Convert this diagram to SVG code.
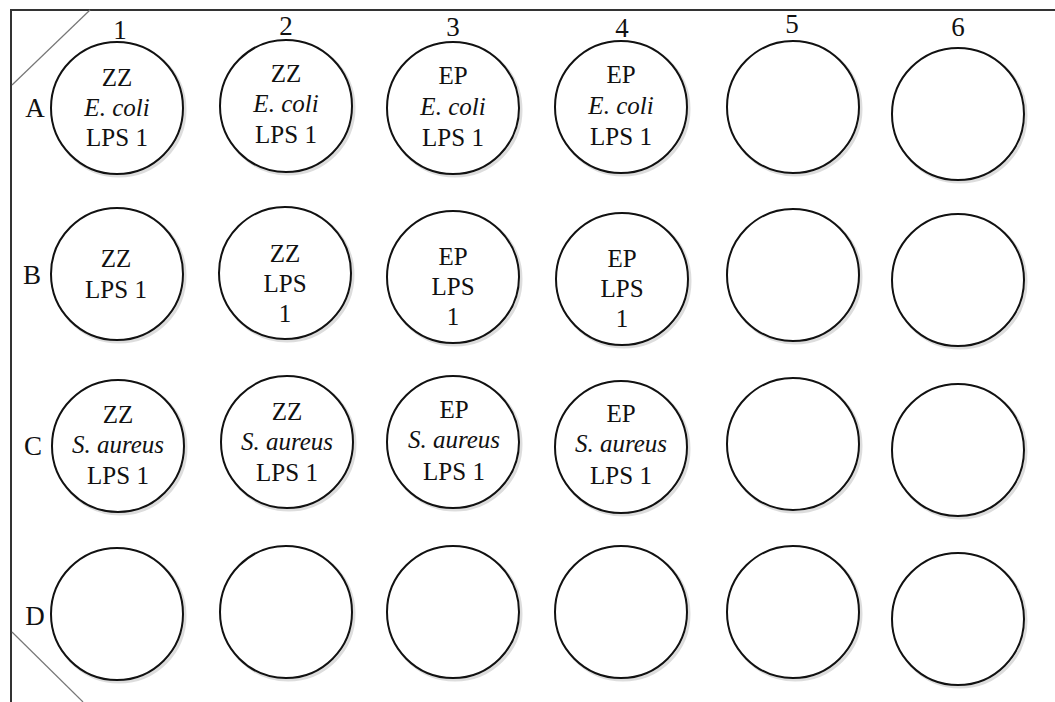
<svg xmlns="http://www.w3.org/2000/svg" width="1055" height="702" viewBox="0 0 1055 702">
<style>
.well{fill:#fff;stroke:#111;stroke-width:2}
.sh{fill:none;stroke:#ddd;stroke-width:3}
.t{font-family:"Liberation Serif","Times New Roman",serif;font-size:25px;fill:#111;text-anchor:middle}
.i{font-style:italic}
.lab{font-family:"Liberation Serif","Times New Roman",serif;font-size:27px;fill:#111;text-anchor:middle}
.frame{fill:none;stroke:#333;stroke-width:2}
.diag{stroke:#777;stroke-width:1.2}
</style>
<rect width="1055" height="702" fill="#fff"/>
<g id="plate">
<path class="frame" d="M11,702 V10 H1055"/>
<line class="diag" x1="12" y1="85" x2="90" y2="10"/>
<line class="diag" x1="12" y1="632" x2="83" y2="702"/>
</g>
<g id="col-labels">
<text class="lab" x="120" y="39">1</text>
<text class="lab" x="286" y="35">2</text>
<text class="lab" x="453" y="36">3</text>
<text class="lab" x="622" y="37">4</text>
<text class="lab" x="792" y="33">5</text>
<text class="lab" x="958" y="36">6</text>
</g>
<g id="row-labels">
<text class="lab" x="35" y="117">A</text>
<text class="lab" x="32" y="284">B</text>
<text class="lab" x="33" y="455">C</text>
<text class="lab" x="35" y="625">D</text>
</g>
<g id="A1"><circle class="sh" cx="119" cy="110" r="66"/><circle class="well" cx="117" cy="108" r="66"/><text class="t" x="117" y="86">ZZ</text><text class="t i" x="117" y="116">E. coli</text><text class="t" x="117" y="146">LPS 1</text></g>
<g id="A2"><circle class="sh" cx="288" cy="108" r="66"/><circle class="well" cx="286" cy="106" r="66"/><text class="t" x="286" y="82">ZZ</text><text class="t i" x="286" y="112">E. coli</text><text class="t" x="286" y="143">LPS 1</text></g>
<g id="A3"><circle class="sh" cx="455" cy="110" r="66"/><circle class="well" cx="453" cy="108" r="66"/><text class="t" x="453" y="84">EP</text><text class="t i" x="453" y="115">E. coli</text><text class="t" x="453" y="146">LPS 1</text></g>
<g id="A4"><circle class="sh" cx="623" cy="109" r="66"/><circle class="well" cx="621" cy="107" r="66"/><text class="t" x="621" y="83">EP</text><text class="t i" x="621" y="114">E. coli</text><text class="t" x="621" y="145">LPS 1</text></g>
<g id="A5"><circle class="sh" cx="795" cy="109" r="66"/><circle class="well" cx="793" cy="107" r="66"/></g>
<g id="A6"><circle class="sh" cx="960" cy="116" r="66"/><circle class="well" cx="958" cy="114" r="66"/></g>
<g id="B1"><circle class="sh" cx="119" cy="276" r="66"/><circle class="well" cx="117" cy="274" r="66"/><text class="t" x="116" y="267">ZZ</text><text class="t" x="116" y="298">LPS 1</text></g>
<g id="B2"><circle class="sh" cx="287" cy="275" r="66"/><circle class="well" cx="285" cy="273" r="66"/><text class="t" x="285" y="262">ZZ</text><text class="t" x="285" y="292">LPS</text><text class="t" x="285" y="322">1</text></g>
<g id="B3"><circle class="sh" cx="455" cy="279" r="66"/><circle class="well" cx="453" cy="277" r="66"/><text class="t" x="453" y="265">EP</text><text class="t" x="453" y="295">LPS</text><text class="t" x="453" y="325">1</text></g>
<g id="B4"><circle class="sh" cx="624" cy="281" r="66"/><circle class="well" cx="622" cy="279" r="66"/><text class="t" x="622" y="267">EP</text><text class="t" x="622" y="297">LPS</text><text class="t" x="622" y="327">1</text></g>
<g id="B5"><circle class="sh" cx="795" cy="277" r="66"/><circle class="well" cx="793" cy="275" r="66"/></g>
<g id="B6"><circle class="sh" cx="960" cy="282" r="66"/><circle class="well" cx="958" cy="280" r="66"/></g>
<g id="C1"><circle class="sh" cx="120" cy="448" r="66"/><circle class="well" cx="118" cy="446" r="66"/><text class="t" x="118" y="423">ZZ</text><text class="t i" x="118" y="453">S. aureus</text><text class="t" x="118" y="484">LPS 1</text></g>
<g id="C2"><circle class="sh" cx="289" cy="444" r="66"/><circle class="well" cx="287" cy="442" r="66"/><text class="t" x="287" y="420">ZZ</text><text class="t i" x="287" y="450">S. aureus</text><text class="t" x="287" y="481">LPS 1</text></g>
<g id="C3"><circle class="sh" cx="455" cy="444" r="66"/><circle class="well" cx="453" cy="442" r="66"/><text class="t" x="454" y="418">EP</text><text class="t i" x="454" y="448">S. aureus</text><text class="t" x="454" y="480">LPS 1</text></g>
<g id="C4"><circle class="sh" cx="623" cy="449" r="66"/><circle class="well" cx="621" cy="447" r="66"/><text class="t" x="621" y="422">EP</text><text class="t i" x="621" y="452">S. aureus</text><text class="t" x="621" y="484">LPS 1</text></g>
<g id="C5"><circle class="sh" cx="795" cy="446" r="66"/><circle class="well" cx="793" cy="444" r="66"/></g>
<g id="C6"><circle class="sh" cx="960" cy="452" r="66"/><circle class="well" cx="958" cy="450" r="66"/></g>
<g id="D1"><circle class="sh" cx="119" cy="616" r="66"/><circle class="well" cx="117" cy="614" r="66"/></g>
<g id="D2"><circle class="sh" cx="288" cy="614" r="66"/><circle class="well" cx="286" cy="612" r="66"/></g>
<g id="D3"><circle class="sh" cx="455" cy="614" r="66"/><circle class="well" cx="453" cy="612" r="66"/></g>
<g id="D4"><circle class="sh" cx="623" cy="614" r="66"/><circle class="well" cx="621" cy="612" r="66"/></g>
<g id="D5"><circle class="sh" cx="795" cy="614" r="66"/><circle class="well" cx="793" cy="612" r="66"/></g>
<g id="D6"><circle class="sh" cx="960" cy="621" r="66"/><circle class="well" cx="958" cy="619" r="66"/></g>
<g id="connectors"></g>
</svg>
